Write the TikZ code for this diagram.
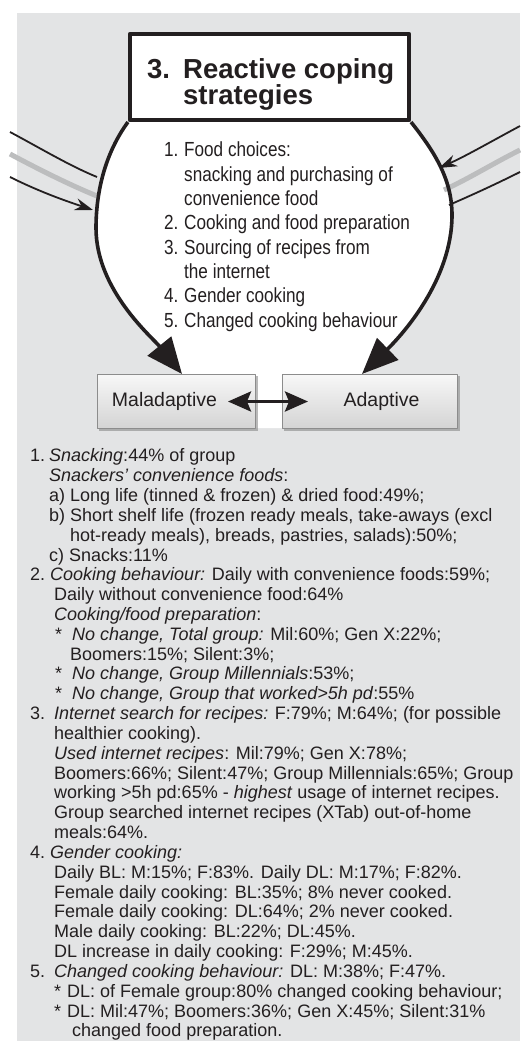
\documentclass[tikz,border=0pt]{standalone}
\usepackage{fontspec}
\setmainfont{Liberation Sans}
\newfontfamily\narrowsans[FakeStretch=0.84]{Liberation Sans}
\usetikzlibrary{arrows.meta,shadows}

\definecolor{panelgray}{HTML}{E3E4E5}
\definecolor{bandgray}{HTML}{BCBDBE}
\definecolor{ink}{HTML}{231F20}
\definecolor{boxedge}{HTML}{8C8C8C}

\tikzset{
  titlebox/.style={draw=ink, line width=3.6pt, fill=white, minimum width=279.5pt, minimum height=86.5pt, inner sep=0pt},
  titletext/.style={font=\fontsize{27.5}{24}\selectfont\bfseries, text=ink, align=left, inner sep=0pt},
  looparrow/.style={draw=ink, line width=3.6pt, -{Triangle[length=36pt,width=30pt]}},
  outcome/.style={draw=boxedge, line width=0.8pt, top color=white!97!black, bottom color=black!17,
    minimum height=54.2pt, inner sep=0pt, text=ink, font=\fontsize{19.5}{22}\selectfont,
    drop shadow={shadow xshift=2pt, shadow yshift=-2pt, fill=black!50, opacity=.55}},
  swaparrow/.style={draw=ink, line width=3.2pt, {Stealth[length=23pt,width=20pt,inset=4pt]}-{Stealth[length=23pt,width=20pt,inset=4pt]}},
  inflow/.style={draw=ink, line width=1.8pt},
  inarrow/.style={inflow, -{Stealth[length=18pt,width=12pt]}},
  band/.style={draw=bandgray, line width=5pt},
  strategies/.style={font=\narrowsans\fontsize{20.4}{24.3}\selectfont, text=ink, align=left, inner sep=0pt, anchor=north west},
  findings/.style={font=\fontsize{18}{19.83}\selectfont, text=ink, align=left, inner sep=0pt, anchor=north west}
}

\begin{document}
\begin{tikzpicture}[x=1pt,y=-1pt,line join=round]
\useasboundingbox (0,0) rectangle (520,1041);
\fill[panelgray] (17,13) rectangle (520,1041);

% white inside of the loop
\fill[white] (128,122) .. controls (106,152) and (96,190) .. (96,228)
  .. controls (96,290) and (152,337) .. (182,376) -- (256,376) -- (256,428) -- (282,428) -- (282,376)
  -- (362,376) .. controls (402,335) and (452,280) .. (452,215)
  .. controls (452,178) and (433,150) .. (411,122) -- cycle;

% flows coming in from both sides
\coordinate (lw1) at (10,132); \coordinate (le1) at (97,177);
\coordinate (lw2) at (10,154); \coordinate (le2) at (97,196);
\coordinate (lw3) at (10,177); \coordinate (le3) at (93,210);
\coordinate (re1) at (520,126); \coordinate (rw1) at (439,168);
\coordinate (re2) at (520,150); \coordinate (rw2) at (444,190);
\coordinate (re3) at (520,172); \coordinate (rw3) at (449,205);
\draw[inflow] (lw1) .. controls (40,148) and (70,166) .. (le1);
\draw[band] (lw2) .. controls (40,170) and (70,185) .. (le2);
\draw[inarrow] (lw3) .. controls (40,192) and (66,201) .. (le3);
\draw[inarrow] (re1) .. controls (492,141) and (466,156) .. (rw1);
\draw[band] (re2) .. controls (492,164) and (470,178) .. (rw2);
\draw[inflow] (re3) .. controls (494,185) and (472,195) .. (rw3);

% heading
\node[titlebox] (titlebox) at (269.5,77) {};
\node[titletext, anchor=north west] (title) at (147,58)
  {\makebox[36pt][l]{3.}Reactive coping\\\hspace*{36pt}strategies};

% outcomes
\node[outcome, minimum width=158.2pt] (mal) at (176.5,401.5) {Maladaptive\hspace*{24pt}};
\node[outcome, minimum width=175.2pt] (ad) at (370,401.5) {\hspace*{23pt}Adaptive};

% the loop
\draw[looparrow] (titlebox.south west) .. controls (106,152) and (96,190) .. (96,228)
  .. controls (96,290) and (152,337) .. ([xshift=5.5pt]mal.north);
\draw[looparrow] (titlebox.south east) .. controls (433,150) and (452,178) .. (452,215)
  .. controls (452,280) and (402,335) .. ([xshift=-8pt]ad.north);
\draw[swaparrow] ([xshift=-28pt]mal.east) -- ([xshift=26pt]ad.west);

\node[strategies] (list) at (164,142)
  {\makebox[20pt][l]{1.}Food choices:\\
   \hspace*{20pt}snacking and purchasing of\\
   \hspace*{20pt}convenience food\\
   \makebox[20pt][l]{2.}Cooking and food preparation\\
   \makebox[20pt][l]{3.}Sourcing of recipes from\\
   \hspace*{20pt}the internet\\
   \makebox[20pt][l]{4.}Gender cooking\\
   \makebox[20pt][l]{5.}Changed cooking behaviour};

\node[findings] (results) at (30,448.6)
  {\makebox[19pt][l]{1.}\textit{Snacking}:44\% of group\\
   \hspace*{19pt}\textit{Snackers' convenience foods}:\\
   \hspace*{19pt}a) Long life (tinned \& frozen) \& dried food:49\%;\\
   \hspace*{19pt}b) Short shelf life (frozen ready meals, take-aways (excl\\
   \hspace*{40pt}hot-ready meals), breads, pastries, salads):50\%;\\
   \hspace*{19pt}c) Snacks:11\%\\
   \makebox[20pt][l]{2.}\textit{Cooking behaviour:} Daily with convenience foods:59\%;\\
   \hspace*{24pt}Daily without convenience food:64\%\\
   \hspace*{24pt}\textit{Cooking/food preparation}:\\
   \hspace*{25pt}\makebox[17pt][l]{*}\textit{No change, Total group:} Mil:60\%; Gen X:22\%;\\
   \hspace*{40pt}Boomers:15\%; Silent:3\%;\\
   \hspace*{25pt}\makebox[17pt][l]{*}\textit{No change, Group Millennials}:53\%;\\
   \hspace*{25pt}\makebox[17pt][l]{*}\textit{No change, Group that worked>5h pd}:55\%\\
   \makebox[24pt][l]{3.}\textit{Internet search for recipes:} F:79\%; M:64\%; (for possible\\
   \hspace*{24pt}healthier cooking).\\
   \hspace*{24pt}\textit{Used internet recipes}: Mil:79\%; Gen X:78\%;\\
   \hspace*{24pt}Boomers:66\%; Silent:47\%; Group Millennials:65\%; Group\\
   \hspace*{24pt}working >5h pd:65\% - \textit{highest} usage of internet recipes.\\
   \hspace*{24pt}Group searched internet recipes (XTab) out-of-home\\
   \hspace*{24pt}meals:64\%.\\
   \makebox[20pt][l]{4.}\textit{Gender cooking:}\\
   \hspace*{24pt}Daily BL: M:15\%; F:83\%. Daily DL: M:17\%; F:82\%.\\
   \hspace*{24pt}Female daily cooking: BL:35\%; 8\% never cooked.\\
   \hspace*{24pt}Female daily cooking: DL:64\%; 2\% never cooked.\\
   \hspace*{24pt}Male daily cooking: BL:22\%; DL:45\%.\\
   \hspace*{24pt}DL increase in daily cooking: F:29\%; M:45\%.\\
   \makebox[24pt][l]{5.}\textit{Changed cooking behaviour:} DL: M:38\%; F:47\%.\\
   \hspace*{24pt}\makebox[13pt][l]{*}DL: of Female group:80\% changed cooking behaviour;\\
   \hspace*{24pt}\makebox[13pt][l]{*}DL: Mil:47\%; Boomers:36\%; Gen X:45\%; Silent:31\%\\
   \hspace*{42pt}changed food preparation.};
\end{tikzpicture}
\end{document}
